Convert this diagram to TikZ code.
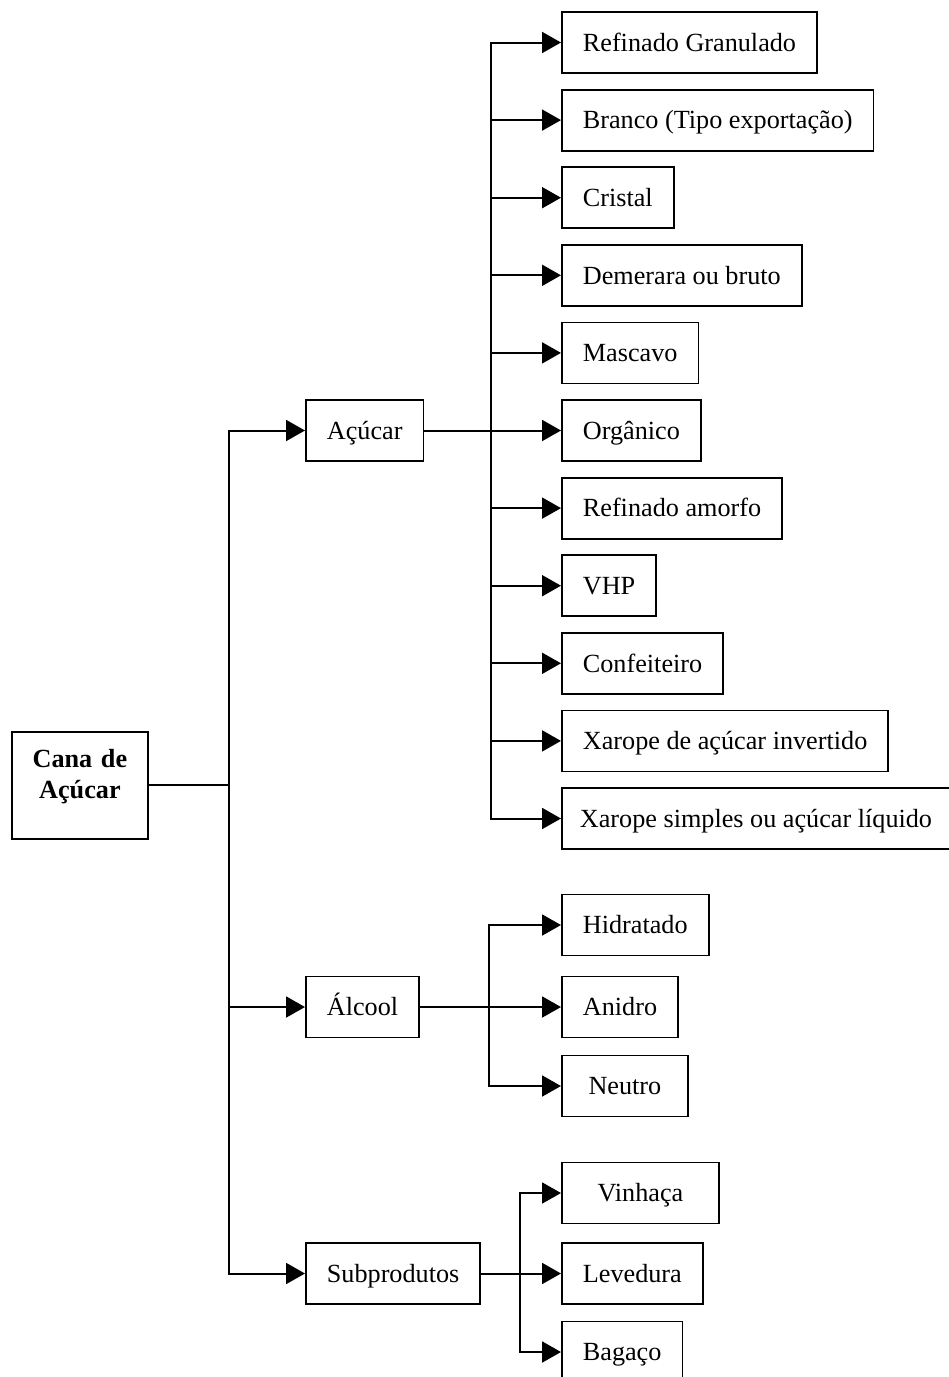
\documentclass[tikz,border=0pt]{standalone}
\usepackage{fontspec}
\setmainfont{Liberation Serif}
\usetikzlibrary{arrows.meta, positioning}
\newcommand{\prodFont}{\fontsize{26.2}{31}\selectfont}
\tikzset{
    prodBox/.style={draw, line width=1.8pt, anchor=west, inner xsep=21pt, inner ysep=0pt, minimum height=61pt, text height=17.5pt, text depth=0pt, font=\prodFont},
    rootBox/.style={draw, line width=1.8pt, anchor=north west, inner xsep=0pt, inner ysep=17pt, text width=136pt, align=center, text height=19pt, text depth=54pt, font=\prodFont\bfseries},
    prodLine/.style={line width=2pt},
    prodArrow/.style={->, >={Triangle[length=19pt, width=21pt]}, line width=2pt},
}
\newcommand{\drawProd}[2]{
    \draw[prodArrow] (#1) |- (#2.west);
}
\begin{document}
\begin{tikzpicture}[x=1pt, y=-1pt]
    \useasboundingbox (0,0) rectangle (949,1377);

    % 0. Cana de Açúcar
    \node[rootBox] (cana) at (11,731) {Cana de\\Açúcar};
    \path (cana.east) ++(80,0) coordinate (jC);
    \draw[prodLine] (cana.east) -- (jC);

    % 1. Açúcar
    \node[prodBox] (acucar) at (305,430.5) {Açúcar};
    \drawProd{jC}{acucar}
    \coordinate (jA) at (491,430.5);
    \draw[prodLine] (acucar.east) -- (jA);

    \node[prodBox] (refGran) at (561,42.5) {Refinado Granulado};
    \node[prodBox] (branco) at (561,120.1) {Branco (Tipo exportação)};
    \node[prodBox] (cristal) at (561,197.7) {Cristal};
    \node[prodBox] (demerara) at (561,275.3) {Demerara ou bruto};
    \node[prodBox] (mascavo) at (561,352.9) {Mascavo};
    \node[prodBox] (organico) at (561,430.5) {Orgânico};
    \node[prodBox] (refAmorfo) at (561,508.1) {Refinado amorfo};
    \node[prodBox] (vhp) at (561,585.7) {VHP};
    \node[prodBox] (confeiteiro) at (561,663.3) {Confeiteiro};
    \node[prodBox] (xaropeInv) at (561,740.9) {Xarope de açúcar invertido};
    \node[prodBox, inner xsep=18pt] (xaropeSimp) at (561,818.5) {Xarope simples ou açúcar líquido};
    \drawProd{jA}{refGran}
    \drawProd{jA}{branco}
    \drawProd{jA}{cristal}
    \drawProd{jA}{demerara}
    \drawProd{jA}{mascavo}
    \drawProd{jA}{organico}
    \drawProd{jA}{refAmorfo}
    \drawProd{jA}{vhp}
    \drawProd{jA}{confeiteiro}
    \drawProd{jA}{xaropeInv}
    \drawProd{jA}{xaropeSimp}

    % 2. Álcool
    \node[prodBox] (alcool) at (305,1007) {Álcool};
    \drawProd{jC}{alcool}
    \coordinate (jB) at (489,1007);
    \draw[prodLine] (alcool.east) -- (jB);

    \node[prodBox] (hidratado) at (561,925) {Hidratado};
    \node[prodBox] (anidro) at (561,1007) {Anidro};
    \node[prodBox, minimum width=126pt] (neutro) at (561,1086) {Neutro};
    \drawProd{jB}{hidratado}
    \drawProd{jB}{anidro}
    \drawProd{jB}{neutro}

    % 3. Subprodutos
    \node[prodBox] (subprod) at (305,1273.5) {Subprodutos};
    \drawProd{jC}{subprod}
    \coordinate (jS) at (520,1273.5);
    \draw[prodLine] (subprod.east) -- (jS);

    \node[prodBox, minimum width=157pt] (vinhaca) at (561,1193) {Vinhaça};
    \node[prodBox] (levedura) at (561,1273.5) {Levedura};
    \node[prodBox] (bagaco) at (561,1352) {Bagaço};
    \drawProd{jS}{vinhaca}
    \drawProd{jS}{levedura}
    \drawProd{jS}{bagaco}

\end{tikzpicture}
\end{document}
